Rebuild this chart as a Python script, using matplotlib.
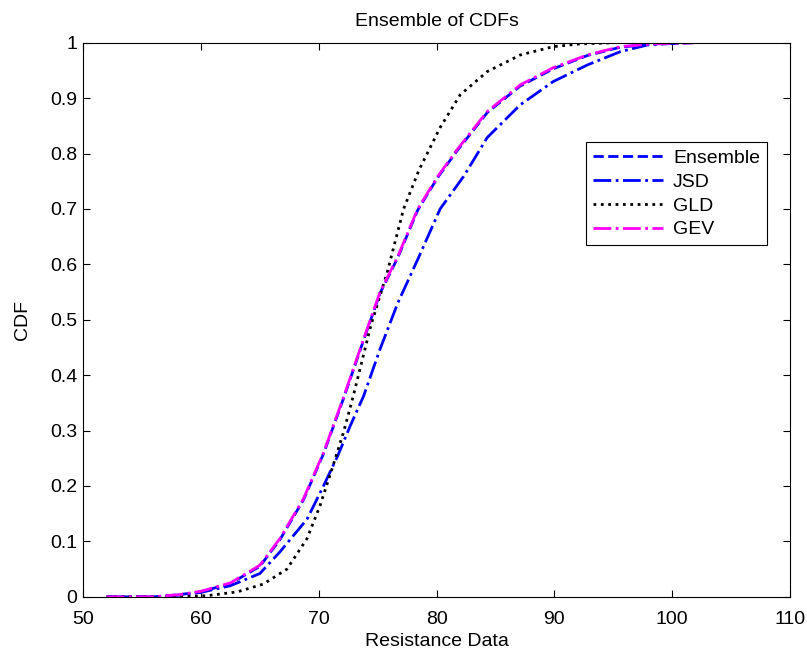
import matplotlib
matplotlib.use("Agg")
import matplotlib.pyplot as plt

plt.rcParams['font.family'] = ['Liberation Sans', 'DejaVu Sans']

# values
gev_x = [52.0, 56.0, 58.2, 60.0, 62.5, 65.0, 66.7, 68.7, 70.4, 72.1, 73.8, 75.2,
         76.7, 78.4, 80.1, 81.7, 84.3, 87.1, 89.9, 92.8, 95.6, 98.4, 101.8]
gev_y = [0.0, 0.0, 0.004, 0.01, 0.025, 0.057, 0.105, 0.177, 0.26, 0.36, 0.465, 0.55,
         0.614, 0.70, 0.759, 0.806, 0.876, 0.924, 0.955, 0.978, 0.993, 0.998, 1.0]

ens_x = [52.0, 56.0, 58.2, 60.0, 62.5, 65.0, 66.7, 68.7, 70.4, 72.1, 73.8, 75.2,
         76.7, 78.4, 80.1, 81.7, 84.3, 87.1, 89.9, 92.8, 95.6, 98.4, 101.8]
ens_y = [0.0, 0.0, 0.004, 0.009, 0.024, 0.055, 0.103, 0.175, 0.258, 0.358, 0.463, 0.548,
         0.612, 0.698, 0.757, 0.804, 0.874, 0.922, 0.953, 0.977, 0.992, 0.998, 1.0]

jsd_x = [52.0, 56.0, 58.2, 60.0, 62.5, 65.0, 66.7, 69.0, 70.4, 71.6, 72.7, 73.8,
         75.2, 76.7, 78.4, 80.3, 82.3, 84.3, 87.1, 89.9, 92.8, 95.6, 97.9, 101.0]
jsd_y = [0.0, 0.0, 0.003, 0.008, 0.02, 0.042, 0.081, 0.14, 0.20, 0.254, 0.31, 0.362,
         0.447, 0.53, 0.609, 0.70, 0.759, 0.829, 0.888, 0.93, 0.96, 0.984, 0.996, 1.0]

gld_x = [52.0, 58.0, 60.5, 63.1, 65.3, 67.3, 69.0, 70.1, 71.2, 72.1, 72.9, 74.4,
         75.8, 77.2, 78.5, 80.3, 82.0, 84.3, 87.1, 89.9, 92.2, 95.0]
gld_y = [0.0, 0.0, 0.002, 0.009, 0.023, 0.05, 0.105, 0.164, 0.236, 0.297, 0.36, 0.488,
         0.585, 0.70, 0.77, 0.847, 0.906, 0.948, 0.978, 0.993, 0.998, 1.0]

fig = plt.figure(figsize=(8.07, 6.58), dpi=100)
ax = fig.add_axes([0.103, 0.093, 0.876, 0.842])

ax.plot(ens_x, ens_y, color='blue', linestyle='--', linewidth=2, label='Ensemble')
ax.plot(jsd_x, jsd_y, color='blue', linestyle='-.', linewidth=2, label='JSD')
ax.plot(gld_x, gld_y, color='black', linestyle=':', linewidth=2, label='GLD')
ax.plot(gev_x, gev_y, color='magenta', linestyle='-.', linewidth=2, label='GEV')

ax.set_xlim(50, 110)
ax.set_ylim(0, 1)
ax.set_xticks(range(50, 111, 10))
ax.set_yticks([i / 10 for i in range(11)])
ax.set_yticklabels(['0', '0.1', '0.2', '0.3', '0.4', '0.5', '0.6', '0.7', '0.8', '0.9', '1'])
ax.tick_params(direction='in', top=True, right=True, labelsize=14, length=5)
ax.tick_params(axis='x', pad=10)
ax.tick_params(axis='y', pad=4)

ax.set_title('Ensemble of CDFs', fontsize=14, pad=12)
ax.set_xlabel('Resistance Data', fontsize=14, labelpad=4)
ax.set_ylabel('CDF', fontsize=14, labelpad=14)

leg = ax.legend(loc='upper right', bbox_to_anchor=(0.967, 0.820), fontsize=14,
                fancybox=False, edgecolor='black', framealpha=1,
                handlelength=3.6, handletextpad=0.5, borderpad=0.35,
                labelspacing=0.32, borderaxespad=0)
leg.get_frame().set_linewidth(0.8)

fig.savefig('out.png', dpi=100)
